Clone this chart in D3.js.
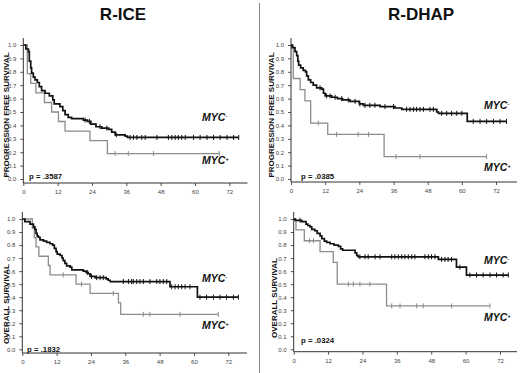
<!DOCTYPE html>
<html lang="en">
<head>
<meta charset="utf-8">
<title>MYC survival curves</title>
<script src="https://d3js.org/d3.v7.min.js"></script>
<style>
  body { margin: 0; background: #fff; }
  svg text { font-family: "Liberation Sans", Arial, sans-serif; }
</style>
</head>
<body>
<script>
// tick values and labels
var monthTicks = [0, 12, 24, 36, 48, 60, 72];
var survTicks = [0, 0.1, 0.2, 0.3, 0.4, 0.5, 0.6, 0.7, 0.8, 0.9, 1.0];
var panelTitles = ["R-ICE", "R-DHAP"];
var yTitles = ["PROGRESSION FREE SURVIVAL", "OVERALL SURVIVAL"];
var pValues = [".3587", ".0385", ".1832", ".0324"];

// step points [month, survival] ; censor months ; last follow-up month
// R-ICE, progression free
var iceP_neg = [[0.9,0.97],[1.8,0.95],[2.1,0.88],[2.6,0.83],[2.9,0.79],[3.5,0.76],[4.1,0.74],[4.9,0.72],[5.6,0.69],[6.4,0.66],[7.6,0.64],[9.1,0.62],[10.3,0.59],[10.8,0.56],[12.8,0.54],[13.8,0.51],[14.6,0.48],[15.7,0.46],[16.9,0.45],[21,0.44],[22.4,0.43],[23.6,0.41],[25.4,0.39],[27.4,0.38],[29.8,0.37],[30.9,0.35],[32.1,0.33],[35.6,0.32],[36.4,0.31]];
var iceP_negCens = [21.6,23.1,26.8,29.2,32.5,37.3,38.5,39.7,41.4,42.6,46.7,50.7,51.9,53.1,54.2,55.4,56.6,59.5,61.8,64.2,66.5,68.8,71.2,73.5,75.3];
var iceP_pos = [[1.4,0.786],[2.6,0.714],[4.4,0.643],[7.4,0.571],[9.9,0.5],[12.3,0.429],[14.6,0.357],[23.3,0.286],[29.4,0.19]];
var iceP_posCens = [32.1,36.7,45.5,68.5];

// R-DHAP, progression free
var dhapP_neg = [[0.4,0.98],[1.4,0.95],[2.0,0.92],[2.4,0.88],[2.7,0.85],[3.4,0.83],[4.3,0.81],[5.1,0.80],[5.5,0.77],[6.1,0.74],[6.9,0.72],[7.8,0.70],[9.0,0.68],[10.8,0.67],[11.4,0.64],[12.0,0.62],[14.3,0.61],[16.3,0.60],[18.1,0.59],[20.7,0.58],[24.0,0.56],[25.4,0.55],[31.3,0.54],[36.5,0.53],[38.9,0.52],[51.2,0.50],[51.8,0.49],[61.9,0.43]];
var dhapP_negCens = [10.2,12.5,13.7,15.5,17.8,20.1,22.5,24.2,26.0,27.7,29.5,33.0,36.0,40.6,41.8,43.0,44.1,45.3,46.5,48.8,50.0,52.9,54.7,56.4,58.2,60.0,64.0,66.4,68.7,71.1,73.4,75.7];
var dhapP_pos = [[0.8,0.75],[3.2,0.667],[4.9,0.583],[6.9,0.417],[12.9,0.333],[32.7,0.167]];
var dhapP_posCens = [9.6,16.0,23.6,27.2,36.9,45.3,68.7];

// R-ICE, overall
var iceO_neg = [[0.9,0.98],[2.7,0.96],[3.9,0.94],[4.4,0.92],[4.8,0.89],[5.2,0.87],[5.6,0.86],[6.2,0.84],[7.4,0.83],[8.5,0.82],[9.7,0.81],[10.6,0.80],[11.2,0.775],[11.8,0.75],[12.2,0.73],[13.2,0.72],[13.9,0.70],[14.3,0.68],[14.9,0.66],[15.5,0.64],[16.7,0.63],[17.3,0.61],[21.3,0.60],[22.3,0.59],[23.0,0.58],[23.7,0.56],[25.4,0.55],[29.3,0.54],[30.0,0.53],[30.7,0.52],[51.6,0.48],[61.2,0.40]];
var iceO_negCens = [22.7,24.2,26.0,27.2,28.3,35.3,37.1,38.2,38.8,40.0,41.1,42.3,44.6,47.0,48.1,49.3,50.5,52.2,53.4,54.5,55.7,56.9,58.6,62.1,64.4,66.8,69.1,71.4,73.8,75.5];
var iceO_pos = [[3.5,0.929],[4.2,0.857],[4.8,0.786],[5.8,0.714],[9.1,0.643],[9.7,0.571],[18.8,0.5],[23.7,0.429],[33.6,0.357],[34.4,0.268]];
var iceO_posCens = [14.3,20.7,31.8,42.3,44.6,55.1,68.5];

// R-DHAP, overall
var dhapO_neg = [[0.5,0.99],[2.8,0.98],[4.3,0.96],[4.9,0.95],[5.7,0.94],[6.3,0.92],[7.4,0.91],[8.2,0.89],[9.2,0.87],[9.8,0.85],[10.7,0.83],[11.5,0.82],[12.7,0.81],[14.1,0.80],[15.6,0.79],[16.4,0.77],[17.1,0.76],[21.4,0.74],[22.0,0.72],[22.5,0.71],[50.5,0.69],[56.8,0.63],[60.3,0.57]];
var dhapO_negCens = [2.2,23.1,24.9,26.0,28.4,30.1,34.2,35.3,36.5,37.7,38.8,40.0,41.2,42.3,45.8,47.0,48.1,49.3,51.6,52.8,53.9,55.1,58.0,61.5,63.8,66.1,68.5,70.8,73.1,74.9];
var dhapO_pos = [[0.8,0.917],[3.7,0.833],[9.2,0.75],[13.8,0.667],[15.2,0.5],[32.4,0.333]];
var dhapO_posCens = [5.5,6.9,19.1,20.8,23.1,26.6,34.2,37.1,42.9,45.2,55.1,68.5];

var w = 520, h = 373;

var svg = d3.select("body").append("svg")
  .attr("width", w)
  .attr("height", h);

// panel layout (pixel placement only)
var panels = [
  { x0: 23.3, x72: 229.3, xEnd: 247.5, y0: 179, y1: 45, axisY: 183, axisTop: 38,
    yt: yTitles[0], ytX: 9, ytY: 115, p: pValues[0], px: 29, py: 179,
    neg: iceP_neg, negC: iceP_negCens, negEnd: 75.3, pos: iceP_pos, posC: iceP_posCens, posEnd: 68.5,
    mNeg: [202, 121], mPos: [202, 164] },
  { x0: 291, x72: 496, xEnd: 517, y0: 179, y1: 45, axisY: 182, axisTop: 38,
    yt: yTitles[0], ytX: 274, ytY: 115, p: pValues[1], px: 301, py: 179,
    neg: dhapP_neg, negC: dhapP_negCens, negEnd: 75.7, pos: dhapP_pos, posC: dhapP_posCens, posEnd: 68.7,
    mNeg: [484, 109], mPos: [484, 171] },
  { x0: 22.3, x72: 228.3, xEnd: 247, y0: 349.3, y1: 219, axisY: 353, axisTop: 212,
    yt: yTitles[1], ytX: 9, ytY: 304, p: pValues[2], px: 27, py: 352,
    neg: iceO_neg, negC: iceO_negCens, negEnd: 75.5, pos: iceO_pos, posC: iceO_posCens, posEnd: 68.5,
    mNeg: [202, 282], mPos: [202, 329] },
  { x0: 293.7, x72: 500, xEnd: 517, y0: 349.3, y1: 219, axisY: 351.7, axisTop: 212,
    yt: yTitles[1], ytX: 277, ytY: 298, p: pValues[3], px: 301, py: 343,
    neg: dhapO_neg, negC: dhapO_negCens, negEnd: 74.9, pos: dhapO_pos, posC: dhapO_posCens, posEnd: 68.5,
    mNeg: [484, 264], mPos: [484, 321] }
];

// column titles and divider
svg.append("line")
  .attr("x1", 259.5).attr("x2", 259.5)
  .attr("y1", 3).attr("y2", h)
  .attr("stroke", "#888").attr("stroke-width", 1);

svg.selectAll("text.title")
  .data(panelTitles)
  .enter().append("text")
  .attr("class", "title")
  .attr("x", function(d, i) { return i == 0 ? 123 : 421; })
  .attr("y", 19.5)
  .attr("text-anchor", "middle")
  .attr("font-size", "17px")
  .attr("font-weight", "bold")
  .attr("fill", "#111")
  .text(function(d) { return d; });

function stepAt(steps, t) {
  var s = 1;
  steps.forEach(function(d) { if (d[0] <= t) s = d[1]; });
  return s;
}

panels.forEach(function(p) {
  var g = svg.append("g");
  var xScale = d3.scaleLinear().domain([0, 72]).range([p.x0, p.x72]);
  var yScale = d3.scaleLinear().domain([0, 1]).range([p.y0, p.y1]);

  // y axis
  var yAxis = d3.axisLeft(yScale)
    .tickValues(survTicks)
    .tickFormat(d3.format(".1f"))
    .tickSize(3)
    .tickSizeOuter(0);
  var ya = g.append("g")
    .attr("transform", "translate(" + p.x0 + ",0)")
    .call(yAxis);
  ya.select(".domain").remove();
  ya.selectAll("line").attr("stroke", "#555");
  ya.selectAll("text").attr("font-size", "6px").attr("fill", "#444").attr("dx", "-1");
  g.append("line")
    .attr("x1", p.x0).attr("x2", p.x0)
    .attr("y1", p.axisTop).attr("y2", p.axisY)
    .attr("stroke", "#333");

  // x axis
  var xAxis = d3.axisBottom(xScale)
    .tickValues(monthTicks)
    .tickSize(3)
    .tickSizeOuter(0);
  var xa = g.append("g")
    .attr("transform", "translate(0," + p.axisY + ")")
    .call(xAxis);
  xa.select(".domain").remove();
  xa.selectAll("line").attr("stroke", "#555");
  xa.selectAll("text").attr("font-size", "6px").attr("fill", "#444").attr("dy", "0.9em");
  g.append("line")
    .attr("x1", p.x0).attr("x2", p.xEnd)
    .attr("y1", p.axisY).attr("y2", p.axisY)
    .attr("stroke", "#333");

  // y title
  g.append("text")
    .attr("transform", "translate(" + p.ytX + "," + p.ytY + ") rotate(-90)")
    .attr("text-anchor", "middle")
    .attr("font-size", "8px")
    .attr("font-weight", "bold")
    .attr("fill", "#111")
    .text(p.yt);

  // curves
  var line = d3.line()
    .x(function(d) { return xScale(d[0]); })
    .y(function(d) { return yScale(d[1]); })
    .curve(d3.curveStepAfter);

  var curves = [
    { steps: p.pos, cens: p.posC, end: p.posEnd, color: "#8c8c8c", sw: 1.3 },
    { steps: p.neg, cens: p.negC, end: p.negEnd, color: "#111", sw: 1.7 }
  ];
  curves.forEach(function(c) {
    var pts = [[0, 1]].concat(c.steps);
    pts.push([c.end, c.steps[c.steps.length - 1][1]]);
    g.append("path")
      .datum(pts)
      .attr("fill", "none")
      .attr("stroke", c.color)
      .attr("stroke-width", c.sw)
      .attr("d", line);
    g.selectAll(null)
      .data(c.cens)
      .enter().append("line")
      .attr("x1", function(d) { return xScale(d); })
      .attr("x2", function(d) { return xScale(d); })
      .attr("y1", function(d) { return yScale(stepAt(c.steps, d)) - 2.5; })
      .attr("y2", function(d) { return yScale(stepAt(c.steps, d)) + 2.5; })
      .attr("stroke", c.color)
      .attr("stroke-width", 1);
  });

  // p value
  g.append("text")
    .attr("x", p.px).attr("y", p.py)
    .attr("font-size", "7.8px")
    .attr("font-weight", "bold")
    .attr("fill", "#111")
    .text("p = " + p.p);

  // MYC labels
  [[p.mNeg, "-"], [p.mPos, "+"]].forEach(function(m) {
    var t = g.append("text")
      .attr("x", m[0][0]).attr("y", m[0][1])
      .attr("font-size", "10.5px")
      .attr("font-weight", "bold")
      .attr("font-style", "italic")
      .attr("fill", "#111");
    t.append("tspan").text("MYC");
    t.append("tspan")
      .attr("font-size", "6px")
      .attr("dy", "-3.5")
      .text(m[1]);
  });
});
</script>
</body>
</html>
